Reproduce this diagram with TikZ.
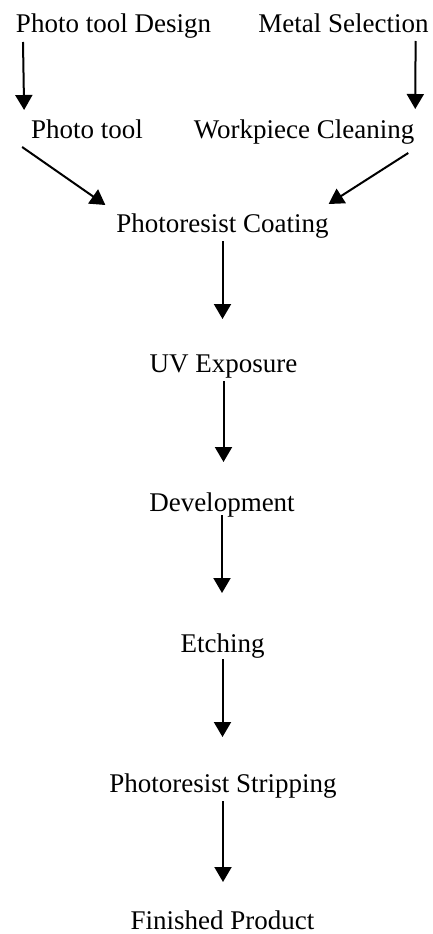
\documentclass[tikz,border=0pt]{standalone}
\usepackage{fontspec}
\setmainfont{Liberation Serif}
\usepackage{tikz}
\usetikzlibrary{arrows.meta}
\tikzset{step box/.style={inner sep=0pt,outer sep=3pt,text height=18pt,text depth=6pt,anchor=base,font=\fontsize{27}{32}\selectfont}}
\tikzset{arr/.style={-{Triangle[length=15pt,width=17pt]},line width=2pt}}

\begin{document}
\begin{tikzpicture}[x=1pt,y=-1pt]
        \useasboundingbox (0,0) rectangle (432,934);
        \node[step box] (design) at (113.5,33) {Photo tool Design};
        \node[step box] (metal) at (343.5,33) {Metal Selection};
        \node[step box] (tool) at (87,138) {Photo tool};
        \node[step box] (clean) at (304,138) {Workpiece Cleaning};
        \node[step box] (coat) at (222.5,232) {Photoresist Coating};
        \node[step box] (uv) at (223.5,372) {UV Exposure};
        \node[step box] (dev) at (222,511) {Development};
        \node[step box] (etch) at (222.5,652) {Etching};
        \node[step box] (strip) at (223,792) {Photoresist Stripping};
        \node[step box,text depth=0pt,outer sep=1pt] (fin) at (222.5,929) {Finished Product};

        \draw [arr] ([xshift=10pt]design.south west) -- ([xshift=-4pt,yshift=7pt]tool.north west);
        \draw [arr] ([xshift=-16pt,yshift=1pt]metal.south east) -- ([xshift=-2pt,yshift=8pt]clean.north east);
        \draw [arr] ([xshift=-6pt]tool.south west) -- ([xshift=-8pt,yshift=6pt]coat.north west);
        \draw [arr] ([xshift=-9pt,yshift=-6pt]clean.south east) -- ([xshift=-3pt,yshift=7pt]coat.north east);
        \draw [arr,shorten >=32pt] (coat.south) -- (coat.south |- uv.north);
        \draw [arr,shorten >=28pt] (uv.south) -- (uv.south |- dev.north);
        \draw [arr,shorten >=38pt] ([yshift=5pt]dev.south) -- (dev.south |- etch.north);
        \draw [arr,shorten >=34pt] ([yshift=2pt]etch.south) -- (etch.south |- strip.north);
        \draw [arr,shorten >=28pt] (strip.south) -- (strip.south |- fin.north);
    \end{tikzpicture}
\end{document}
